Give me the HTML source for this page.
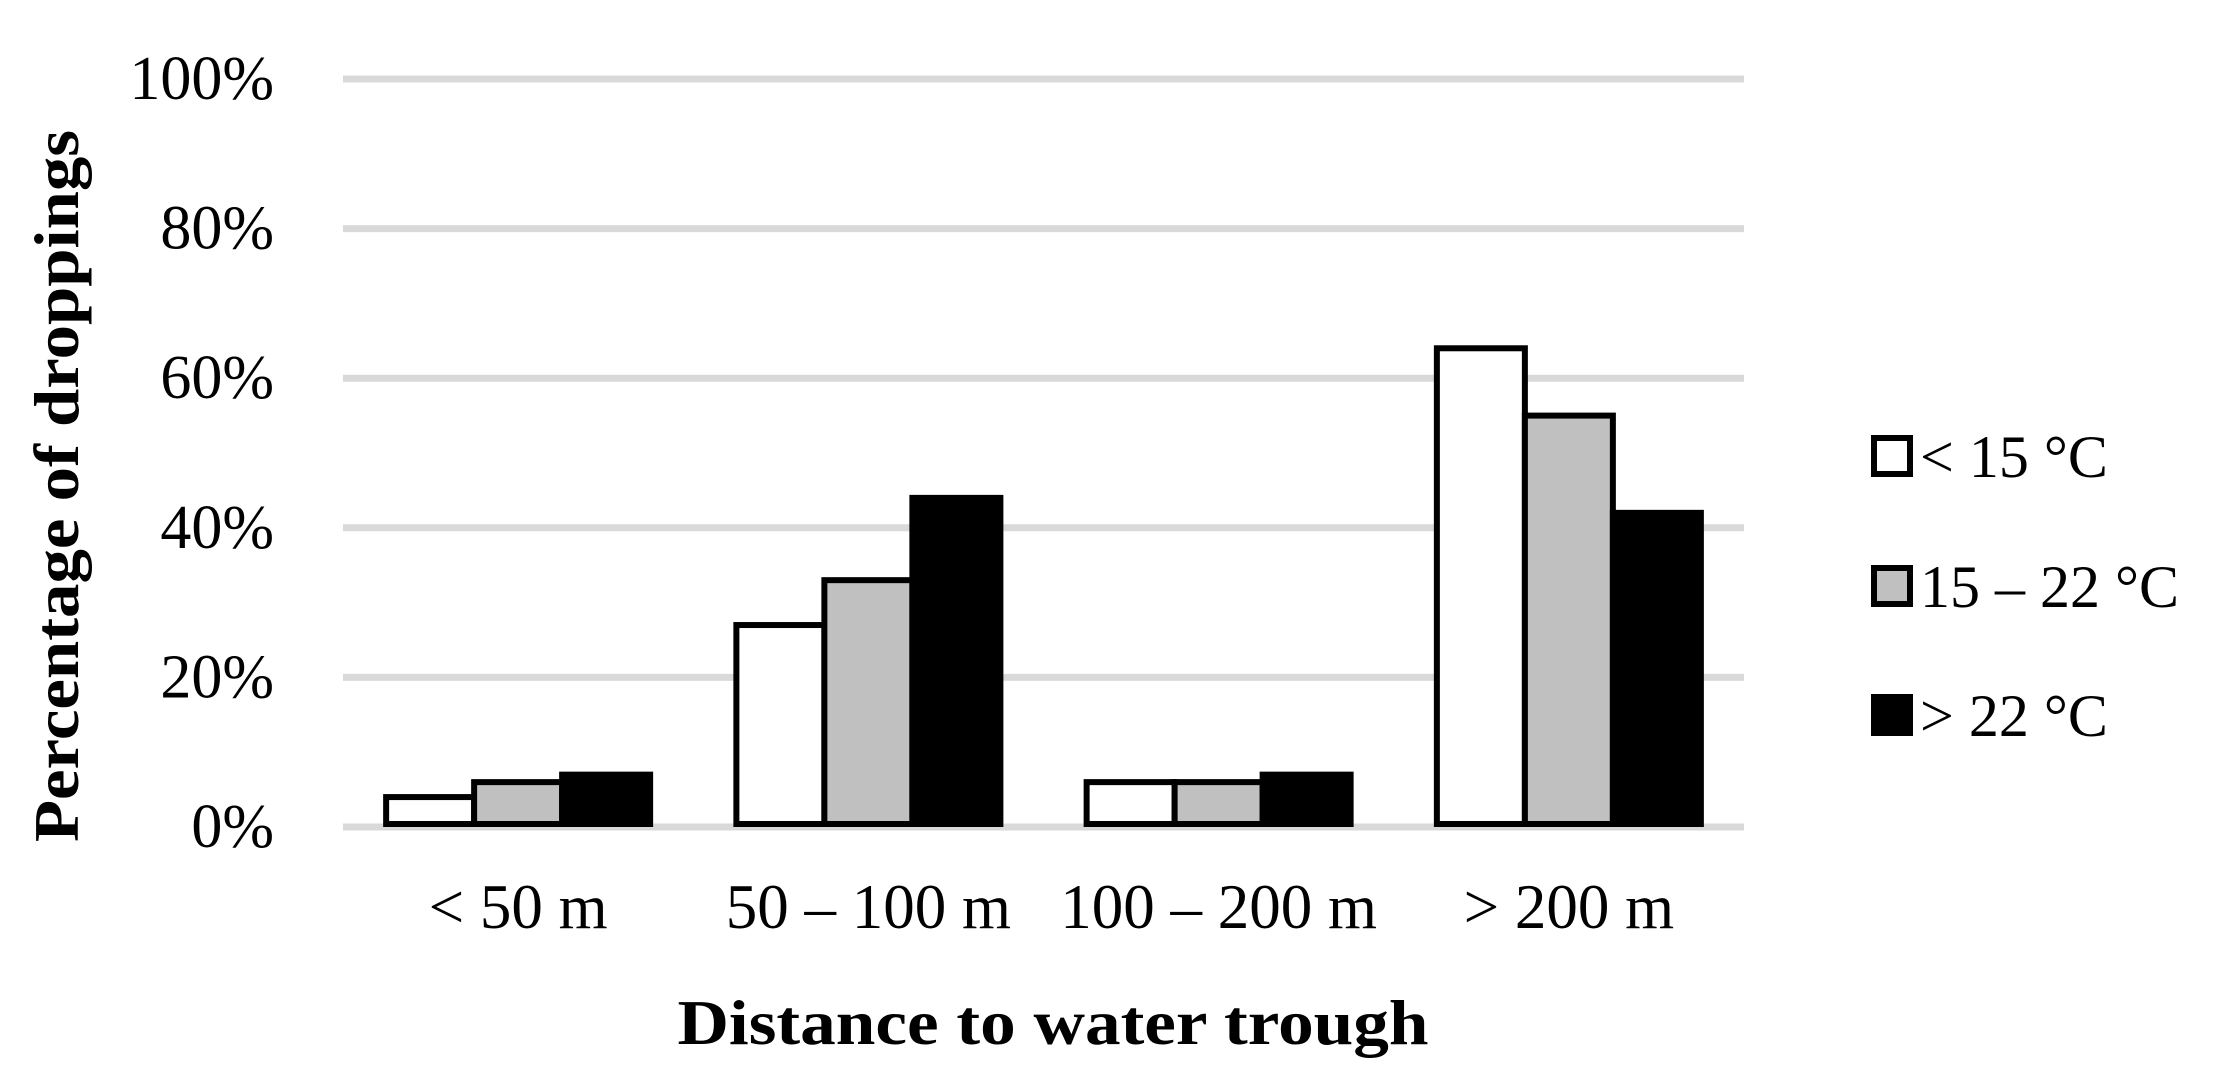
<!DOCTYPE html>
<html><head><meta charset="utf-8"><style>
html,body{margin:0;padding:0;background:#fff;}
svg{display:block;font-family:"Liberation Serif",serif;}
</style></head><body>
<svg id="chart" width="2218" height="1086" viewBox="0 0 2218 1086">
<g id="grid"></g><g id="bars"></g><g id="labels"></g>
<text transform="translate(78,486) rotate(-90)" text-anchor="middle" font-size="64" font-weight="bold" textLength="712" lengthAdjust="spacingAndGlyphs">Percentage of droppings</text>
<text x="1053" y="1044" text-anchor="middle" font-size="64" font-weight="bold" textLength="751" lengthAdjust="spacingAndGlyphs">Distance to water trough</text>
<g id="legend"></g>
</svg>
<script>
const categories = ["< 50 m", "50 – 100 m", "100 – 200 m", "> 200 m"];
const seriesNames = ["< 15 °C", "15 – 22 °C", "> 22 °C"];
const seriesCold = [4, 27, 6, 64];
const seriesMid = [6, 33, 6, 55];
const seriesHot = [7, 44, 7, 42];
const yTicks = [0, 20, 40, 60, 80, 100];
const yTickLabels = ["0%", "20%", "40%", "60%", "80%", "100%"];

const NS = "http://www.w3.org/2000/svg";
const X0 = 343, X1 = 1744, Y0 = 827, Y1 = 79;
const fills = ["#ffffff", "#c0c0c0", "#000000"];
const series = [seriesCold, seriesMid, seriesHot];
const y = v => Y0 - (v / 100) * (Y0 - Y1);
const gw = (X1 - X0) / categories.length;
const bw = 88;
const xg = i => X0 + gw * i;
function mk(tag, attrs, parent) { const e = document.createElementNS(NS, tag); for (const k in attrs) e.setAttribute(k, attrs[k]); parent.appendChild(e); return e; }
const grid = document.getElementById('grid'), bars = document.getElementById('bars'), labels = document.getElementById('labels'), legend = document.getElementById('legend');
yTicks.forEach((t, i) => {
  const l = mk('line', {x1: X0, x2: X1, y1: y(t), y2: y(t), stroke: '#d9d9d9', 'stroke-width': 7}, grid);
  
  
  const tx = mk('text', {x: 274, y: y(t) + 20, 'text-anchor': 'end', 'font-size': 62}, labels);
  tx.textContent = yTickLabels[i];
  
  
});
categories.forEach((c, i) => {
  const start = xg(i) + (gw - 3 * bw) / 2;
  series.forEach((s, j) => {
    const top = y(s[i]);
    const r = mk('rect', {x: start + j * bw, y: top, width: bw, height: Y0 - top - 3, fill: fills[j], stroke: '#000', 'stroke-width': 6}, bars);
    
    
  });
  const tx = mk('text', {x: xg(i) + gw / 2, y: 928, 'text-anchor': 'middle', 'font-size': 63}, labels);
  tx.textContent = c;
  
  
});
const legY = [456, 586, 715];
seriesNames.forEach((n, j) => {
  const r = mk('rect', {x: 1874, y: legY[j] - 18, width: 36, height: 36, fill: fills[j], stroke: '#000', 'stroke-width': 6}, legend);
  
  
  const tx = mk('text', {x: 1920, y: legY[j] + 21, 'font-size': 60}, legend);
  tx.textContent = n;
  
  
});
</script>
</body></html>
